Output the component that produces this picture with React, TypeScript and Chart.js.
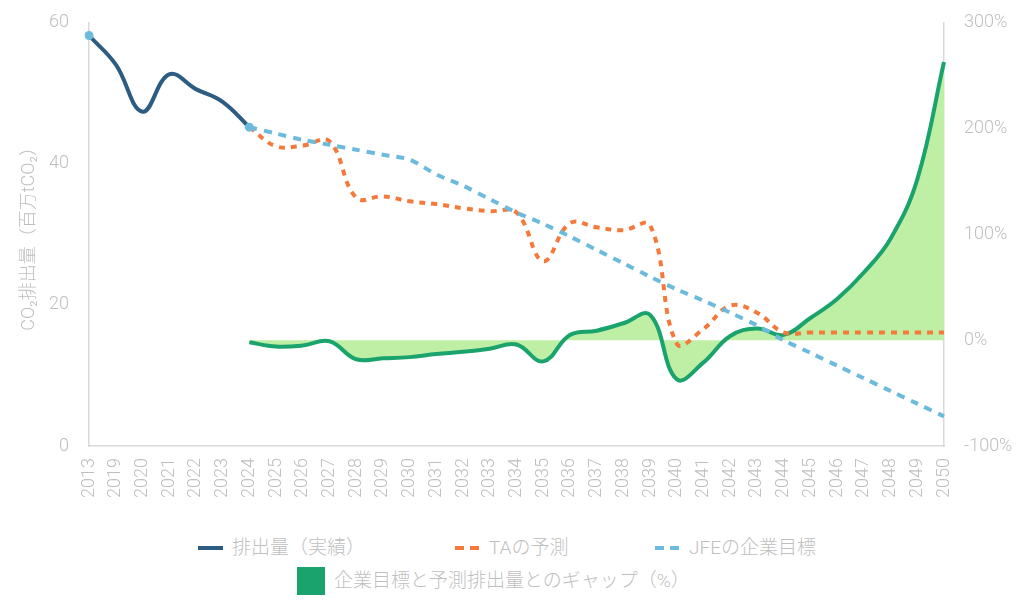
import { useEffect, useRef } from 'react'
import Chart from 'chart.js/auto'

const YEARS = ['2013', '2019', '2020', '2021', '2022', '2023', '2024', '2025', '2026', '2027', '2028', '2029', '2030', '2031', '2032', '2033', '2034', '2035', '2036', '2037', '2038', '2039', '2040', '2041', '2042', '2043', '2044', '2045', '2046', '2047', '2048', '2049', '2050']

const N = null
// 排出量（実績） 2013-2024
const ACTUAL = [58.2, 54.1, 47.4, 52.7, 50.6, 48.8, 45.2]
// TAの予測 2024-2050
const TA_FORECAST = [45.2, 42.5, 42.6, 43.2, 35.2, 35.4, 34.7, 34.3, 33.7, 33.3, 33.1, 26.2, 31.6, 31.0, 30.6, 31.3, 14.5, 16.6, 19.9, 18.9, 16.1, 16.1, 16.1, 16.1, 16.1, 16.1, 16.1]
// JFEの企業目標 2013 (base) + 2024-2050
const JFE_BASE = 58.2
const JFE_TARGET = [45.2, 44.3, 43.4, 42.7, 42.0, 41.3, 40.6, 38.5, 36.9, 35.0, 33.1, 31.5, 29.7, 27.8, 25.9, 24.0, 22.2, 20.6, 18.9, 17.1, 15.0, 13.2, 11.4, 9.6, 7.8, 6.0, 4.2]
// 企業目標と予測排出量とのギャップ（%） 2024-2050
const GAP_PCT = [-2, -6, -5, -1, -18, -17, -16, -13, -11, -8, -4, -20, 5, 9, 16, 24, -37, -21, 4, 11, 5, 21, 39, 64, 96, 152, 263]

const LEFT_TICKS = [0, 20, 40, 60]
const RIGHT_TICKS = [-100, 0, 100, 200, 300]

const C_ACTUAL = '#2d5c82'
const C_TA = '#f5793b'
const C_JFE = '#6dbbdc'
const C_GAP = '#1aa36c'
const C_FILL = '#bfeea5'
const C_TEXT = '#bfbfbf'
const C_AXIS = '#d9d9d9'
const FONT = "Roboto, 'Noto Sans CJK JP', sans-serif"

const pad = (start: number, vals: (number | null)[]) => {
  const out: (number | null)[] = YEARS.map(() => N)
  vals.forEach((v, i) => { out[start + i] = v })
  return out
}

export default function App() {
  const chartRef = useRef<HTMLCanvasElement>(null)
  const chartInstance = useRef<Chart | null>(null)

  useEffect(() => {
    if (!chartRef.current) return
    if (chartInstance.current) chartInstance.current.destroy()

    const start = YEARS.indexOf('2024')
    const jfeData = pad(start, JFE_TARGET)
    jfeData[0] = JFE_BASE

    chartInstance.current = new Chart(chartRef.current, {
      type: 'line',
      data: {
        labels: YEARS,
        datasets: [
          {
            label: 'JFEの企業目標',
            data: jfeData,
            borderColor: C_JFE,
            backgroundColor: C_JFE,
            borderWidth: 4,
            borderDash: [8, 7],
            tension: 0.3,
            pointRadius: YEARS.map((_, i) => (i === 0 || i === start ? 4.5 : 0)),
            pointBackgroundColor: C_JFE,
            pointBorderWidth: 0,
            yAxisID: 'y',
            order: 0,
          },
          {
            label: 'TAの予測',
            data: pad(start, TA_FORECAST),
            borderColor: C_TA,
            backgroundColor: C_TA,
            borderWidth: 4,
            borderDash: [6, 6],
            tension: 0.4,
            pointRadius: 0,
            yAxisID: 'y',
            order: 1,
          },
          {
            label: '排出量（実績）',
            data: pad(0, ACTUAL),
            borderColor: C_ACTUAL,
            backgroundColor: C_ACTUAL,
            borderWidth: 4,
            tension: 0.4,
            pointRadius: 0,
            yAxisID: 'y',
            order: 2,
          },
          {
            label: '企業目標と予測排出量とのギャップ（%）',
            data: pad(start, GAP_PCT),
            borderColor: C_GAP,
            backgroundColor: C_FILL,
            borderWidth: 4,
            tension: 0.4,
            pointRadius: 0,
            fill: 'origin',
            yAxisID: 'y1',
            order: 3,
          },
        ],
      },
      options: {
        animation: false,
        responsive: true,
        maintainAspectRatio: false,
        layout: { padding: { top: 17, left: 0, right: 0, bottom: 0 } },
        plugins: {
          legend: { display: false },
          tooltip: { enabled: false },
        },
        scales: {
          x: {
            offset: false,
            grid: { display: false },
            border: { display: true, color: C_AXIS, width: 1.5 },
            ticks: {
              autoSkip: false,
              maxRotation: 90,
              minRotation: 90,
              padding: 4,
              color: C_TEXT,
              font: { family: FONT, size: 18, weight: '300' },
            },
            afterFit: (scale: any) => { scale.height = 69 },
          },
          y: {
            position: 'left',
            min: LEFT_TICKS[0],
            max: LEFT_TICKS[LEFT_TICKS.length - 1],
            grid: { display: false },
            border: { display: true, color: C_AXIS, width: 1.5 },
            ticks: {
              stepSize: 20,
              padding: 12,
              color: C_TEXT,
              font: { family: FONT, size: 18, weight: '300' },
            },
            title: {
              display: true,
              text: 'CO₂排出量（百万tCO₂）',
              color: C_TEXT,
              padding: { top: 19, bottom: 0 },
              font: { family: FONT, size: 18, weight: '300' },
            },
            afterFit: (scale: any) => { scale.width = 89 },
          },
          y1: {
            position: 'right',
            min: RIGHT_TICKS[0],
            max: RIGHT_TICKS[RIGHT_TICKS.length - 1],
            grid: { display: false },
            border: { display: true, color: C_AXIS, width: 1.5 },
            ticks: {
              stepSize: 100,
              padding: 12,
              color: C_TEXT,
              font: { family: FONT, size: 18, weight: '300' },
              callback: (v: any) => `${v}%`,
            },
            afterFit: (scale: any) => { scale.width = 80 },
          },
        },
      },
    })

    return () => { chartInstance.current?.destroy() }
  }, [])

  const legendText = { color: C_TEXT, fontFamily: FONT, fontWeight: 300, fontSize: 19, lineHeight: '24px', whiteSpace: 'nowrap' as const }
  const dash = (c: string) => (
    <span style={{ display: 'inline-flex', gap: 6, width: 25, marginRight: 9 }}>
      <span style={{ width: 9, height: 4, background: c }} />
      <span style={{ width: 9, height: 4, background: c }} />
    </span>
  )

  return (
    <div style={{ position: 'absolute', left: 0, top: 0, width: 1024, height: 615, background: '#fff' }}>
      <div style={{ position: 'absolute', left: 0, top: 0, width: 1024, height: 515 }}>
        <canvas ref={chartRef} />
      </div>
      <div style={{ position: 'absolute', left: 198, top: 536, display: 'flex', alignItems: 'center', ...legendText }}>
        <span style={{ width: 25, height: 4, background: C_ACTUAL, marginRight: 9 }} />
        排出量（実績）
      </div>
      <div style={{ position: 'absolute', left: 455, top: 536, display: 'flex', alignItems: 'center', ...legendText }}>
        {dash(C_TA)}
        TAの予測
      </div>
      <div style={{ position: 'absolute', left: 655, top: 536, display: 'flex', alignItems: 'center', ...legendText }}>
        {dash(C_JFE)}
        JFEの企業目標
      </div>
      <div style={{ position: 'absolute', left: 297, top: 567, display: 'flex', alignItems: 'center', ...legendText }}>
        <span style={{ width: 28, height: 28, background: C_GAP, marginRight: 9 }} />
        企業目標と予測排出量とのギャップ（%）
      </div>
    </div>
  )
}
